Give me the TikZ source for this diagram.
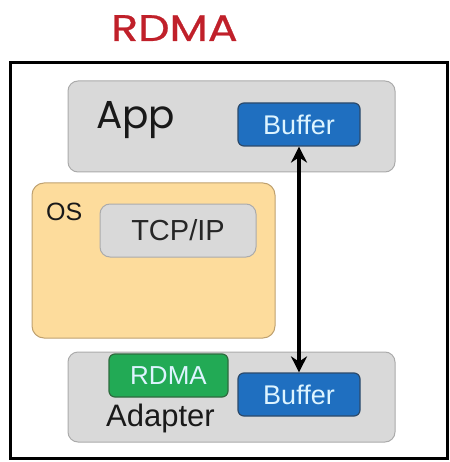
\documentclass[tikz,border=0pt]{standalone}
\usepackage{fontspec}
\setmainfont{Liberation Sans}
\newfontfamily\titlefont[FakeStretch=1.2, FakeBold=0.7]{Poppins}
\newfontfamily\appfont{Poppins}
\usetikzlibrary{arrows, arrows.meta}
\usetikzlibrary{positioning, calc}
\usepackage{xcolor}

\definecolor{boxgray}{HTML}{D9D9D9}
\definecolor{edgegray}{HTML}{ABABAB}
\definecolor{bufblue}{HTML}{1F6FC0}
\definecolor{bufedge}{HTML}{2C4A6A}
\definecolor{rdmagreen}{HTML}{22AA55}
\definecolor{greenedge}{HTML}{2E6B3E}
\definecolor{osorange}{HTML}{FDDC9C}
\definecolor{osedge}{HTML}{BFA170}
\definecolor{titlered}{HTML}{C0202A}
\definecolor{lighttext}{HTML}{DDF4FF}

\tikzset{
  graybox/.style={draw=edgegray, fill=boxgray, rounded corners=10pt, line width=1pt, inner sep=0pt},
  bufbox/.style={draw=bufedge, fill=bufblue, rounded corners=6pt, line width=1.2pt, inner sep=0pt,
    minimum width=122pt, minimum height=43pt, text=lighttext, font=\fontsize{27}{29}\selectfont},
  label/.style={inner sep=0pt, anchor=base west, text=black!90}
}

\begin{document}
\begin{tikzpicture}[x=1pt, y=-1pt, >={Stealth[length=16pt, width=16pt]}]
    \useasboundingbox (0, 0) rectangle (449, 462);

    \node[text=titlered, inner sep=0pt, anchor=base west, font=\titlefont\fontsize{37}{40}\selectfont] (title) at (111, 41) {RDMA};
    \draw[line width=3pt] (10, 63) rectangle (447, 458);

    % application layer
    \node[graybox, minimum width=327pt, minimum height=91pt] (app) at (231.5, 126.5) {};
    \node[label, font=\appfont\fontsize{39}{42}\selectfont] (applbl) at (96, 129) {App};
    \node[bufbox] (topbuf) at (299, 124.5) {Buffer};

    % operating system
    \node[draw=osedge, fill=osorange, rounded corners=12pt, line width=1pt, minimum width=243pt, minimum height=155pt] (os) at (153.5, 260.5) {};
    \node[label, font=\fontsize{25}{27}\selectfont] (oslbl) at (46, 220) {OS};
    \node[graybox, minimum width=156pt, minimum height=53pt, font=\fontsize{29}{31}\selectfont, text=black!85] (tcp) at (178, 230.5) {TCP/IP};

    % adapter
    \node[graybox, minimum width=327pt, minimum height=90pt] (adapter) at (231.5, 397) {};
    \node[draw=greenedge, fill=rdmagreen, rounded corners=6pt, line width=1.2pt, inner sep=0pt, minimum width=119pt, minimum height=43pt, text=lighttext, font=\fontsize{26}{28}\selectfont] (rdma) at (168.5, 375.5) {RDMA};
    \node[bufbox] (botbuf) at (299, 394.5) {Buffer};
    \node[label, font=\fontsize{31}{33}\selectfont] (adlbl) at (106, 426) {Adapter};

    \draw[<->, line width=3.5pt] (topbuf) -- (botbuf);
\end{tikzpicture}
\end{document}
